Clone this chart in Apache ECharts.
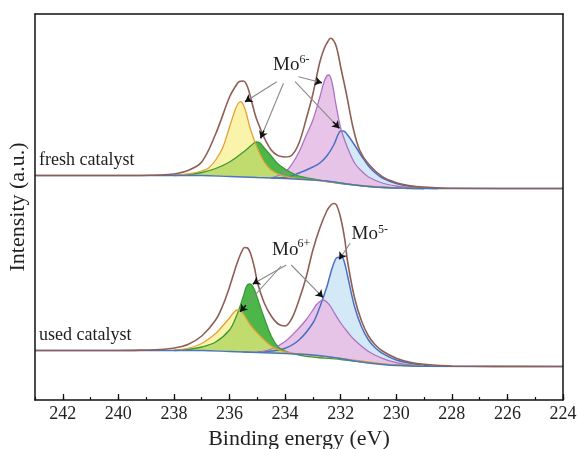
<!DOCTYPE html>
<html><head><meta charset="utf-8">
<script src="https://cdn.jsdelivr.net/npm/echarts@6/dist/echarts.min.js"></script>
<style>html,body{margin:0;padding:0;background:#fff}#c{width:578px;height:449px}</style>
</head><body><div id="c"></div>
<script>
// ---- data (binding energy eV, intensity a.u.) ----
const xTickValues = [242,240,238,236,234,232,230,228,226,224];

const freshEnvelope = [[243,224.5],[240,224.5],[238.5,225],[238,226],[237.5,229.5],[237,238],[236.5,266],[236,303],[235.8,313],[235.65,318.5],[235.5,319],[235.35,313],[235.2,298],[235,279],[234.5,250],[234,243],[233.75,245],[233.5,257],[233.25,280],[233,306],[232.75,338],[232.6,351],[232.5,356.7],[232.36,361.7],[232.2,356.7],[232.1,347],[232,333],[231.8,307],[231.56,273],[231.32,250],[231,236],[230.5,223.3],[230,217.3],[229.5,214.3],[229,213],[228,211.7],[224,211.5]];
const freshYellow = [[238,224.8],[237.5,226],[237,229],[236.75,232],[236.5,240],[236.25,252],[236,273],[235.8,290],[235.7,296],[235.6,298.3],[235.5,295],[235.4,287],[235.25,271],[235,252],[234.75,238],[234.5,230],[234.25,226],[234,223.5],[233.5,221.5],[233,220],[232,217],[231,214],[230,212],[229,211.5]];
const freshGreen = [[238,224.5],[237.5,225.5],[237,227.5],[236.5,231.5],[236,238],[235.5,248],[235.2,255],[235.05,258],[234.9,257],[234.75,252],[234.5,244],[234.25,236],[234,231],[233.75,227],[233.5,224],[233,221],[232.5,218.5],[232,216.5],[231.5,215],[231,213.5],[230,212],[229,211.5]];
const freshPink = [[234.5,222],[234,228],[233.75,236],[233.5,248],[233.25,264],[233,280],[232.75,303],[232.6,318],[232.5,324],[232.42,325],[232.3,316],[232.2,300],[232,272],[231.75,252],[231.5,237],[231.25,229],[231,223],[230.5,217],[230,214],[229.5,212.5],[229,211.5]];
const freshBlue = [[234.5,222],[234,222.5],[233.5,227],[233,233],[232.75,237],[232.5,244],[232.25,255],[232.1,265],[232,269],[231.9,269],[231.75,265],[231.5,255],[231.25,244],[231,234],[230.75,227],[230.5,222],[230,216.5],[229.5,213.5],[229,212],[228.5,211.5]];
const freshBackground = [[243,224.5],[237,224.5],[236,223.5],[235,222.5],[234,221.5],[233,220],[232.5,219],[232,217],[231.5,215],[231,213.5],[230.5,212.5],[230,212],[229,211.5],[224,211.5]];

const usedEnvelope = [[243,49.5],[240,49.5],[239,50],[238.5,50.5],[238,52],[237.5,55.5],[237,64],[236.5,80],[236.25,94],[236,113],[235.75,135],[235.6,146],[235.45,152.5],[235.35,152],[235.25,147],[235.1,132],[235,118],[234.75,97],[234.5,84],[234.25,76],[234,74],[233.75,82],[233.5,100],[233.25,122],[233,150],[232.75,172],[232.5,189],[232.35,195],[232.25,196.5],[232.15,195],[232,182],[231.85,160],[231.75,138],[231.5,102],[231.25,79],[231,64],[230.75,55],[230.5,49],[230,41.7],[229.5,37.7],[229,35.7],[228,34],[224,33.5]];
const usedYellow = [[238,50],[237.5,51.7],[237,56.5],[236.5,66.5],[236.25,74],[236,82],[235.85,87.5],[235.72,90],[235.6,89],[235.5,86],[235.25,75],[235,67],[234.75,60],[234.5,54],[234.25,50.5],[234,48],[233.5,46],[233,44.5],[232,41.5],[231,38],[230,35],[229,34]];
const usedGreen = [[238,49.5],[237.5,50.5],[237,53],[236.5,58],[236,70],[235.75,84],[235.5,104],[235.4,113],[235.3,116],[235.2,115],[235.1,110],[235,102],[234.75,82],[234.5,64],[234.25,53],[234,49],[233.5,45],[233,43],[232,40.5],[231,37.5],[230,35],[229,34]];
const usedPink = [[235.5,48],[235,47.8],[234.5,51],[234,58.5],[233.5,72],[233.25,80],[233,90],[232.88,95],[232.75,98.5],[232.64,100],[232.5,98],[232.35,93],[232.25,88],[232,77],[231.75,68],[231.5,60],[231,48.5],[230.5,41.7],[230,37.3],[229.5,35],[229,34]];
const usedBlue = [[235,48],[234.5,49],[234,51.7],[233.5,60],[233,77],[232.75,93],[232.5,113],[232.35,128],[232.2,140],[232.1,142.7],[231.95,142.5],[231.85,136],[231.75,124],[231.5,93.3],[231.25,73.3],[231,60],[230.75,52],[230.5,46.7],[230,40],[229.5,36.7],[229,34.5],[228.5,33.7]];
const usedBackground = [[243,49.5],[237,49.5],[236,48.5],[235,47.5],[234,46.5],[233,45],[232.5,43.5],[232,41.5],[231.5,39],[231,37],[230.5,35.5],[230,34.5],[229,33.7],[224,33.5]];

// annotation arrows: [from, to] in data coordinates
const arrowPairs = [
  [[234.3,318.3],[235.44,298.3]],
  [[234.06,316.7],[234.88,261.7]],
  [[233.52,323.3],[232.68,317.3]],
  [[233.64,318.3],[232.05,271.7]],
  [[234.14,134],[235.62,88.3]],
  [[233.96,135],[235.16,116]],
  [[233.78,135],[232.64,102.7]],
  [[231.66,156.7],[232.05,140.7]]
];

// ---- styles ----
const SERIF = '"Liberation Serif","Times New Roman",serif';
const C = {
  env:'#8e5f55',
  yFill:'#f7ee82', yLine:'#e3a038',
  gFill:'#4db648', gLine:'#3b9a35',
  pFill:'#e7c2e7', pLine:'#ad72c4',
  bFill:'#d4e9f8', bLine:'#4a6fc2',
  bg:'#4a76c0'
};
const SM = 0.35;
function area(data, color, opacity){
  return {type:'line', data, smooth:SM, symbol:'none', silent:true,
    lineStyle:{width:0, opacity:0}, areaStyle:{color, opacity, origin:'start'}};
}
function line(data, color, width){
  return {type:'line', data, smooth:SM, symbol:'none', silent:true,
    lineStyle:{color, width}};
}
const series = [
  area(freshBlue, C.bFill, 1), area(freshPink, C.pFill, 0.95),
  area(freshGreen, C.gFill, 1), area(freshYellow, C.yFill, 0.68),
  area(freshBackground, '#ffffff', 1),
  area(usedBlue, C.bFill, 1), area(usedPink, C.pFill, 0.95),
  area(usedGreen, C.gFill, 1), area(usedYellow, C.yFill, 0.68),
  area(usedBackground, '#ffffff', 1),
  line(freshBlue, C.bLine, 1.5), line(freshPink, C.pLine, 1.3),
  line(freshGreen, C.gLine, 1.3), line(freshYellow, C.yLine, 1.3),
  line(usedBlue, C.bLine, 1.5), line(usedPink, C.pLine, 1.3),
  line(usedGreen, C.gLine, 1.3), line(usedYellow, C.yLine, 1.3),
  line(freshBackground, C.bg, 1.4), line(usedBackground, C.bg, 1.4),
  line(freshEnvelope, C.env, 1.6), line(usedEnvelope, C.env, 1.6)
];
// arrows via markLine
const greyLines = arrowPairs.map(p => [{coord:p[0]},{coord:p[1]}]);
const headLines = arrowPairs.map(p => {
  const k = 0.14;
  const s = [p[1][0] + (p[0][0]-p[1][0])*k, p[1][1] + (p[0][1]-p[1][1])*k];
  return [{coord:s},{coord:p[1]}];
});
series.push({type:'line', data:[], silent:true, markLine:{silent:true, animation:false,
  symbol:['none','none'], label:{show:false}, lineStyle:{color:'#8a8a8a', width:1.1, type:'solid'}, data:greyLines}});
series.push({type:'line', data:[], silent:true, markLine:{silent:true, animation:false,
  symbol:['none','arrow'], symbolSize:7, label:{show:false}, lineStyle:{color:'#111', width:1.6, type:'solid'}, data:headLines}});

const txt = (x, y, text, size) => ({type:'text', x, y, z:100,
  style:{text, font: size + 'px ' + SERIF, fill:'#1e1e1e', textVerticalAlign:'middle', textAlign:'left'}});

const chart = echarts.init(document.getElementById('c'), null, {renderer:'canvas'});
chart.setOption({
  animation:false,
  grid:{left:35, right:15, top:14, bottom:49, outerBoundsMode:'none', containLabel:false},
  xAxis:[
    {type:'value', position:'bottom', inverse:true, min:224, max:243, interval:2, z:10,
     axisLine:{show:true, onZero:false, lineStyle:{color:'#111', width:1.5}},
     axisTick:{show:true, inside:true, length:6, lineStyle:{color:'#111', width:1.3}},
     axisLabel:{show:true, margin:5, fontSize:18, fontFamily:SERIF, color:'#222', showMaxLabel:false,
       formatter:v => xTickValues.includes(v) ? String(v) : ''},
     splitLine:{show:false},
     name:'Binding energy (eV)', nameLocation:'middle', nameGap:17,
     nameTextStyle:{fontSize:22, fontFamily:SERIF, color:'#222'}},
    {type:'value', position:'bottom', inverse:true, min:224, max:243, interval:1, z:9,
     axisLine:{show:false}, axisTick:{show:true, inside:true, length:3, lineStyle:{color:'#111', width:1.2}},
     axisLabel:{show:false}, splitLine:{show:false}},
    {type:'value', position:'top', inverse:true, min:224, max:243, z:10,
     axisLine:{show:true, onZero:false, lineStyle:{color:'#111', width:1.5}},
     axisTick:{show:false}, axisLabel:{show:false}, splitLine:{show:false}}
  ],
  yAxis:[
    {type:'value', min:0, max:386, position:'left', z:10,
     axisLine:{show:true, onZero:false, lineStyle:{color:'#111', width:1.5}},
     axisTick:{show:false}, axisLabel:{show:false}, splitLine:{show:false},
     name:'Intensity (a.u.)', nameLocation:'middle', nameGap:6, nameRotate:90,
     nameTextStyle:{fontSize:22, fontFamily:SERIF, color:'#222'}},
    {type:'value', min:0, max:386, position:'right', z:10,
     axisLine:{show:true, onZero:false, lineStyle:{color:'#111', width:1.5}},
     axisTick:{show:false}, axisLabel:{show:false}, splitLine:{show:false}}
  ],
  series,
  graphic:[
    txt(39, 160.5, 'fresh catalyst', 18),
    txt(39, 335, 'used catalyst', 18),
    txt(273, 65, 'Mo', 19), txt(299.5, 59.5, '6-', 12),
    txt(272, 250, 'Mo', 19), txt(297.5, 243.5, '6+', 12),
    txt(351.5, 234, 'Mo', 19), txt(378, 229.5, '5-', 12)
  ]
});
</script></body></html>
